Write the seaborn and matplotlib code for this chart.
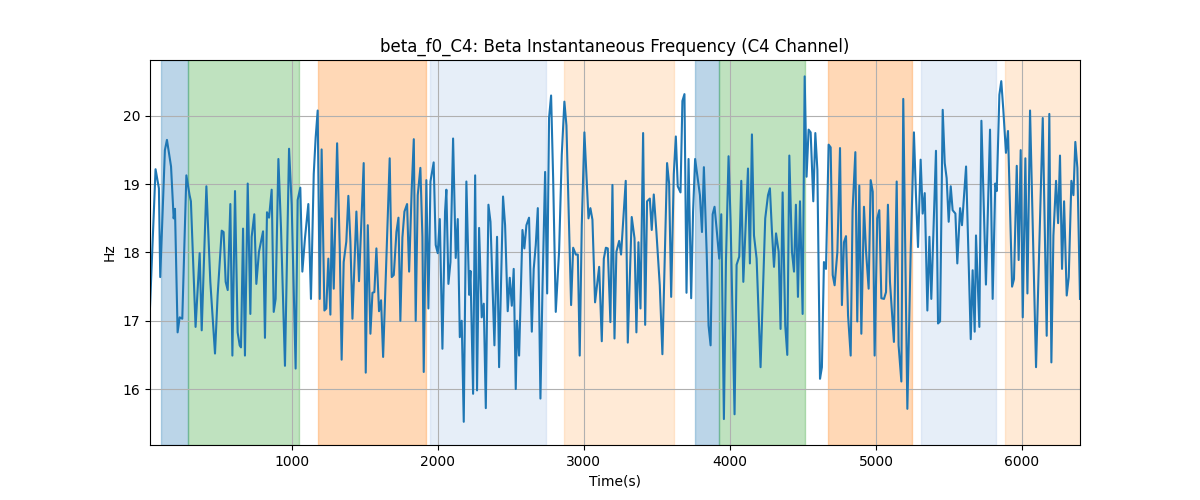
import matplotlib
matplotlib.use("Agg")
import matplotlib.pyplot as plt
import seaborn as sns

# time (s) and beta instantaneous frequency (Hz)
time_s = [30, 68, 91, 100, 132, 146, 174, 192, 201, 219, 233, 251, 279, 301, 310, 342, 370, 384, 416, 443,
          475, 493, 521, 534, 548, 562, 580, 594, 612, 630,
          644, 653, 667, 680, 699, 717, 726, 744, 758, 776, 804, 817, 831, 845, 863, 877, 890, 909, 927, 954,
          982, 1000, 1027, 1041, 1059, 1073, 1091, 1114, 1132, 1151, 1164, 1178, 1192, 1205, 1224, 1237, 1251, 1265,
          1274, 1288, 1311, 1329, 1342, 1356, 1374, 1388, 1402, 1416, 1443, 1461, 1493, 1507, 1521, 1539, 1553,
          1566, 1580, 1598, 1612, 1626, 1671, 1685, 1699, 1717, 1731, 1744, 1758, 1772, 1790, 1804, 1822, 1836,
          1849, 1863, 1881, 1895,
          1904, 1922, 1936, 1950, 1972, 1986, 2000, 2014, 2032, 2050, 2059, 2073, 2087, 2105, 2123, 2137, 2151,
          2164, 2178, 2196, 2215, 2224, 2242, 2256, 2269, 2283, 2301, 2315, 2329, 2347, 2361, 2388, 2406, 2420,
          2447, 2461, 2479, 2493, 2507, 2520,
          2534, 2543, 2557, 2580, 2593, 2607, 2625, 2644, 2657, 2671, 2685, 2703, 2717, 2735, 2749, 2762, 2776,
          2790, 2808, 2831, 2849, 2867, 2881, 2913, 2927, 2945, 2959, 2972, 2986, 3004, 3018, 3032, 3045, 3059,
          3077, 3105, 3123, 3137, 3151,
          3164, 3182, 3196, 3210, 3223, 3242, 3255, 3274, 3287, 3301, 3328, 3347, 3360, 3374, 3388, 3406, 3420,
          3433, 3452, 3465, 3479, 3497, 3520, 3538, 3570, 3584, 3598, 3616, 3630, 3643, 3662, 3675, 3689, 3703,
          3717, 3735, 3748, 3762,
          3795, 3809, 3822, 3841, 3854, 3868, 3882, 3895, 3909, 3927, 3941, 3959, 3973, 3991, 4005, 4032, 4046,
          4064, 4078, 4092, 4124, 4137, 4151, 4165, 4183, 4210, 4242, 4261, 4274, 4288, 4302, 4316, 4334, 4347,
          4361, 4379, 4393, 4407,
          4425, 4439, 4452, 4466, 4480, 4498, 4512, 4525, 4539, 4553, 4571, 4585, 4599, 4617, 4630, 4644, 4658,
          4676, 4690, 4704, 4717, 4736, 4754, 4767, 4781, 4795, 4809, 4827, 4840, 4859, 4872, 4886, 4900, 4918,
          4932, 4950, 4964, 4978, 4991, 5009, 5023, 5037,
          5055, 5069, 5082, 5096, 5123, 5142, 5155, 5174, 5187, 5215, 5238, 5260, 5274, 5288, 5306, 5320, 5334,
          5352, 5366, 5379, 5411, 5425, 5439, 5457, 5471, 5484, 5498, 5512, 5525, 5544, 5557, 5576, 5589, 5617,
          5649, 5662, 5676,
          5685, 5708, 5722, 5753, 5781, 5799, 5817, 5827, 5845, 5858, 5872, 5890, 5904, 5932, 5945, 5964, 5977,
          5991, 6005, 6023, 6037, 6055, 6096, 6142, 6169, 6187, 6201, 6215, 6233, 6247, 6260, 6274, 6288, 6306,
          6320, 6338, 6352, 6365, 6379, 6397]

beta_hz = [17.20, 19.22, 18.94, 17.64, 19.50, 19.65, 19.26, 18.50, 18.64, 16.83, 17.05, 17.03, 19.13, 18.84,
           18.75, 16.91, 17.99, 16.86, 18.97, 17.57, 16.52, 17.37, 18.32, 18.30, 17.57, 17.45, 18.71, 16.49,
           18.90, 16.83,
           16.64, 16.61, 18.35, 16.49, 19.01, 17.10, 18.23, 18.56, 17.54, 18.01, 18.31, 16.75, 18.59, 18.51,
           18.92, 17.13, 17.32, 19.37, 18.35, 16.34, 19.52, 18.70, 16.30, 18.77, 18.95, 17.72, 18.21, 18.71,
           17.32, 19.15, 19.68, 20.08, 17.32, 19.51, 17.15, 17.18, 17.91, 17.09,
           18.50, 17.47, 19.60, 18.06, 16.43, 17.86, 18.16, 18.83, 18.16, 17.03, 18.60, 17.58, 19.31, 16.24,
           18.40, 16.81, 17.41, 17.42, 18.06, 17.14, 17.30, 16.47, 19.38, 17.64, 17.67, 18.30, 18.51, 17.00,
           18.22, 18.60, 18.71, 17.72, 18.94, 19.66, 17.00, 18.84, 19.24, 18.23,
           16.25, 19.06, 17.18, 19.04, 19.32, 18.11, 17.99, 18.49, 16.59, 18.60, 18.92, 17.54, 17.86, 19.67,
           17.92, 18.49, 16.76, 17.00, 15.52, 19.04, 17.38, 17.73, 15.93, 19.13, 15.98, 18.36, 17.05, 17.25,
           15.72, 18.70, 18.45, 16.64, 18.23, 16.32, 18.82, 18.40, 17.14, 17.63, 17.22, 17.76,
           16.00, 17.00, 16.49, 18.33, 18.06, 18.40, 18.51, 16.84, 17.76, 18.11, 18.65, 15.86, 17.47, 19.18,
           17.40, 19.97, 20.30, 19.09, 17.13, 18.03, 19.43, 20.21, 19.86, 17.23, 18.07, 17.97, 17.97, 16.49,
           18.40, 19.76, 19.14, 18.50, 18.65, 18.48, 17.27, 17.79, 16.70, 17.91, 18.07,
           18.06, 16.98, 18.99, 16.74, 18.01, 18.17, 17.97, 18.60, 19.05, 16.68, 18.52, 18.21, 16.83, 18.15,
           17.18, 19.75, 16.94, 18.75, 18.79, 18.33, 18.85, 18.30, 17.52, 16.51, 19.31, 19.01, 17.35, 19.15,
           19.70, 18.97, 18.88, 20.22, 20.32, 17.41, 19.37, 17.33, 18.60, 19.37,
           18.84, 18.30, 19.25, 18.01, 16.93, 16.64, 18.56, 18.67, 18.35, 17.91, 18.56, 15.56, 17.86, 19.41,
           18.45, 15.63, 17.82, 17.94, 19.05, 17.57, 19.23, 17.84, 19.73, 18.25, 17.91, 16.32, 18.50, 18.84,
           18.94, 18.31, 17.79, 18.28, 18.01, 16.88, 18.88, 16.93, 16.50, 19.42,
           18.01, 17.72, 18.70, 17.35, 18.75, 17.10, 20.58, 19.11, 19.80, 19.76, 18.75, 19.75, 19.21, 16.15,
           16.32, 17.86, 17.76, 19.58, 19.54, 17.67, 17.52, 18.01, 19.53, 17.23, 18.15, 18.24, 17.08, 16.49,
           18.62, 19.47, 16.99, 18.98, 16.81, 18.67, 18.02, 17.47, 19.06, 18.89, 16.49, 18.50, 18.62, 17.33,
           17.32, 17.42, 18.70, 17.57, 16.69, 19.04, 16.64, 16.11, 20.25, 15.71, 18.03, 19.76, 18.84, 18.08,
           19.36, 18.57, 18.87, 17.15, 18.23, 17.32, 19.49, 16.96, 16.99, 20.09, 19.31, 19.09, 18.45, 18.97,
           18.62, 18.57, 17.84, 18.65, 18.40, 19.26, 16.73, 17.74, 16.84,
           18.25, 16.91, 19.93, 17.53, 19.80, 17.32, 19.01, 18.90, 20.31, 20.51, 20.09, 19.46, 19.78, 17.50,
           17.61, 19.27, 17.89, 19.50, 17.05, 19.38, 17.40, 20.08, 16.32, 19.97, 16.78, 20.03, 16.39, 18.25,
           19.05, 18.43, 19.42, 17.76, 18.75, 17.37, 17.64, 19.05, 18.84, 19.62, 19.24, 17.32]

# shaded segments
span_start = [105, 292, 1178, 1950, 2865, 3762, 3927, 4671, 5310, 5886]
span_end = [292, 1050, 1922, 2740, 3616, 3927, 4511, 5247, 5822, 6420]
span_color = ["#1f77b4", "#2ca02c", "#ff7f0e", "#aec7e8", "#ffbb78",
              "#1f77b4", "#2ca02c", "#ff7f0e", "#aec7e8", "#ffbb78"]

fig, ax = plt.subplots(figsize=(12, 5), dpi=100)

for s, e, c in zip(span_start, span_end, span_color):
    ax.axvspan(s, e, color=c, alpha=0.3)

sns.lineplot(x=time_s, y=beta_hz, ax=ax, color="#1f77b4", linewidth=1.5)

ax.set_xlim(time_s[0], time_s[-1])
ax.set_ylim(15.18, 20.82)
ax.set_yticks([16, 17, 18, 19, 20])
ax.grid(True)
ax.set_title("beta_f0_C4: Beta Instantaneous Frequency (C4 Channel)")
ax.set_xlabel("Time(s)")
ax.set_ylabel("Hz")

plt.savefig("out.png")
